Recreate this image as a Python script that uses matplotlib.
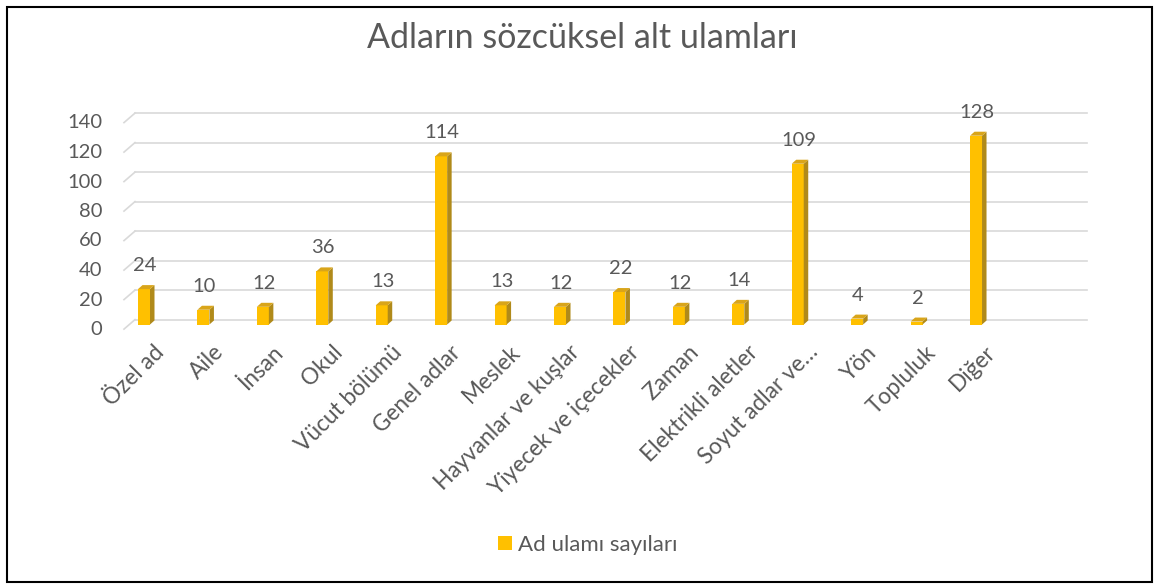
import matplotlib
matplotlib.use("Agg")
import matplotlib.pyplot as plt
import matplotlib.transforms as mtransforms
from matplotlib.patches import Polygon, Rectangle, Patch

plt.rcParams["font.family"] = ["Lato", "DejaVu Sans"]

# --- veriler ---
categories = ["Özel ad", "Aile", "İnsan", "Okul", "Vücut bölümü", "Genel adlar",
              "Meslek", "Hayvanlar ve kuşlar", "Yiyecek ve içecekler", "Zaman",
              "Elektrikli aletler", "Soyut adlar ve…", "Yön", "Topluluk", "Diğer"]
counts = [24, 10, 12, 36, 13, 114, 13, 12, 22, 12, 14, 109, 4, 2, 128]
yticks = [0, 20, 40, 60, 80, 100, 120, 140]
title = "Adların sözcüksel alt ulamları"
series_name = "Ad ulamı sayıları"

TEXT = "#595959"
GRID = "#D9D9D9"
FRONT = "#FFC000"
SIDE = "#B08A1A"
TOP = "#D9A51A"

W, H = 1154, 584
fig = plt.figure(figsize=(W / 100, H / 100), dpi=100)

# çizim alanı (piksel konumları)
x0, x1 = 124, 1087
y_bot, y_top = 324.5, 118
ax = fig.add_axes([x0 / W, 1 - y_bot / H, (x1 - x0) / W, (y_bot - y_top) / H])
px_cat = 59.43                       # kategori aralığı (px)
xl = (x0 - 144) / px_cat
xr = (x1 - 144) / px_cat
ax.set_xlim(xl, xr)
ax.set_ylim(0, 140)
px_unit = (y_bot - y_top) / 140.0

for s in ax.spines.values():
    s.set_visible(False)

# arka duvar ızgarası + taban köşegenleri
back = 4.9 / px_unit
front = 9.5 / px_unit
xb = xl + 11 / px_cat
for g in yticks:
    ax.plot([xb, xr], [g + back, g + back], color=GRID, lw=1.2, zorder=1, clip_on=False)
    ax.plot([xl, xb], [g + back - front, g + back], color=GRID, lw=1.2, zorder=1, clip_on=False)

# 3B sütunlar
bw = 12 / px_cat
ddx = 4.5 / px_cat
ddy = 4.0 / px_unit
xs = list(range(len(categories)))
ax.bar(xs, counts, width=bw, color=FRONT, zorder=3)
for x, v in zip(xs, counts):
    l, r = x - bw / 2, x + bw / 2
    ax.add_patch(Polygon([(r, 0), (r + ddx, ddy), (r + ddx, v + ddy), (r, v)],
                         closed=True, facecolor=SIDE, edgecolor="none", zorder=3))
    ax.add_patch(Polygon([(l, v), (r, v), (r + ddx, v + ddy), (l + ddx, v + ddy)],
                         closed=True, facecolor=TOP, edgecolor="none", zorder=3))
    ax.annotate(str(v), xy=(x, v), xytext=(0.7, 18 * 0.72), textcoords="offset points",
                ha="center", va="baseline", fontsize=14.5, color=TEXT)

# eksen etiketleri
ax.set_yticks(yticks)
ax.set_yticklabels([str(t) for t in yticks])
ax.tick_params(axis="y", length=0, pad=22 * 0.72, labelsize=14.5, labelcolor=TEXT)
dy_lbl = mtransforms.ScaledTranslation(0, -3.5 / 100, fig.dpi_scale_trans)
for lbl in ax.get_yticklabels():
    lbl.set_transform(lbl.get_transform() + dy_lbl)

ax.set_xticks(xs)
ax.set_xticklabels(categories, rotation=45, ha="right", va="top", rotation_mode="anchor")
ax.tick_params(axis="x", length=0, pad=17 * 0.72, labelsize=16.3, labelcolor=TEXT)
dx_lbl = mtransforms.ScaledTranslation(9 / 100, 0, fig.dpi_scale_trans)
for lbl in ax.get_xticklabels():
    lbl.set_transform(lbl.get_transform() + dx_lbl)

# başlık
fig.text(582 / W, 1 - 48 / H, title, ha="center", va="baseline", fontsize=24.5, color=TEXT)

# gösterge
fig.legend(handles=[Patch(facecolor=FRONT)], labels=[series_name], loc="center",
           bbox_to_anchor=(588 / W, 1 - 545 / H), frameon=False, fontsize=16,
           labelcolor=TEXT, handlelength=0.6, handleheight=0.6, handletextpad=0.3)

# dış çerçeve
fig.patches.append(Rectangle((7 / W, 1 - 582 / H), (1152 - 7) / W, (582 - 7) / H,
                             transform=fig.transFigure, fill=False, edgecolor="black",
                             lw=1.5))

fig.savefig("out.png", dpi=100)
